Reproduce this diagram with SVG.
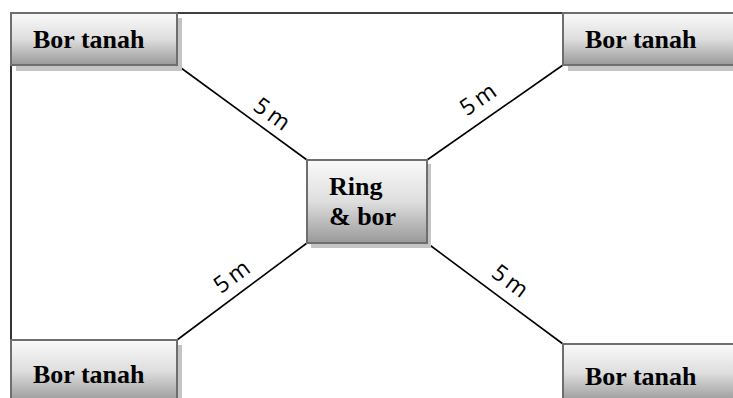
<svg xmlns="http://www.w3.org/2000/svg" width="733" height="398" viewBox="0 0 733 398">
<style>
.box{fill:url(#g);stroke:#6e6e6e;stroke-width:2}
.sh{fill:#c4c4c4}
.t{font-family:"Liberation Serif","Times New Roman",serif;font-weight:bold;font-size:26px;fill:#000}
.c{stroke:#000;stroke-width:1.6;fill:none}
.l{font-family:"Open Sans","DejaVu Sans",sans-serif;font-size:23px;letter-spacing:-1px;fill:#000}
</style>
<defs>
<linearGradient id="g" x1="0" y1="0" x2="0" y2="1">
<stop offset="0" stop-color="#fafafa"/>
<stop offset="0.5" stop-color="#dedede"/>
<stop offset="1" stop-color="#999"/>
</linearGradient>
</defs>
<rect width="733" height="398" fill="#fff"/>
<g id="connectors">
<path class="c" d="M11 65 V340"/>
<path class="c" d="M177 13 H563"/>
<line class="c" x1="177" y1="65" x2="307" y2="160"/>
<line class="c" x1="427" y1="160" x2="563" y2="65"/>
<line class="c" x1="307" y1="243" x2="177" y2="340"/>
<line class="c" x1="427" y1="243" x2="563" y2="344"/>
<text class="l" transform="translate(267,120) rotate(36)" text-anchor="middle">5 m</text>
<text class="l" transform="translate(482,106) rotate(-35)" text-anchor="middle">5 m</text>
<text class="l" transform="translate(236,283) rotate(-36.7)" text-anchor="middle">5 m</text>
<text class="l" transform="translate(505,287) rotate(36.6)" text-anchor="middle">5 m</text>
</g>
<g id="n1">
<rect class="sh" x="16" y="18" width="166" height="53"/>
<rect class="box" x="11" y="13" width="166" height="52"/>
<text class="t" x="33" y="48">Bor tanah</text>
</g>
<g id="n2">
<rect class="sh" x="568" y="18" width="172" height="53"/>
<rect class="box" x="563" y="13" width="174" height="52"/>
<text class="t" x="585" y="48">Bor tanah</text>
</g>
<g id="n3">
<rect class="sh" x="16" y="345" width="166" height="60"/>
<rect class="box" x="11" y="340" width="166" height="62"/>
<text class="t" x="33" y="383">Bor tanah</text>
</g>
<g id="n4">
<rect class="sh" x="568" y="349" width="172" height="56"/>
<rect class="box" x="563" y="344" width="174" height="58"/>
<text class="t" x="585" y="385">Bor tanah</text>
</g>
<g id="center">
<rect class="sh" x="311" y="164" width="120" height="84"/>
<rect class="box" x="307" y="160" width="120" height="83"/>
<text class="t" x="329" y="195">Ring</text>
<text class="t" x="329" y="225">&amp; bor</text>
</g>
</svg>
